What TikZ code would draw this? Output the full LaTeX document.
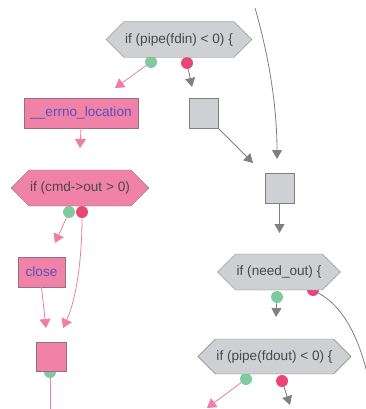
\documentclass[tikz,border=0pt]{standalone}
\usepackage{fontspec}
\setmainfont{Liberation Sans}
\usetikzlibrary{shapes.symbols, arrows.meta}
\definecolor{boxgrey}{RGB}{206,208,212}
\definecolor{edgegrey}{RGB}{128,128,128}
\definecolor{boxpink}{RGB}{240,130,168}
\definecolor{edgepink}{RGB}{150,110,125}
\definecolor{linkpink}{RGB}{240,125,165}
\definecolor{dotgreen}{RGB}{128,202,160}
\definecolor{dotred}{RGB}{232,70,118}
\definecolor{textgrey}{RGB}{72,72,72}
\definecolor{textblue}{RGB}{90,80,190}

\begin{document}
\begin{tikzpicture}[x=1pt, y=-1pt,
    font=\fontsize{13.6}{16}\selectfont,
    hexnode/.style={signal, signal to=west and east, signal pointer angle=90,
      draw=edgegrey, inner sep=1pt, minimum height=36pt, text=textgrey},
    greyhex/.style={hexnode, fill=boxgrey},
    pinkhex/.style={hexnode, fill=boxpink, draw=edgepink},
    greybox/.style={rectangle, draw=edgegrey, fill=boxgrey, inner sep=0pt},
    pinkbox/.style={rectangle, draw=edgepink, fill=boxpink, inner sep=0pt, text=textblue},
    truedot/.style={circle, fill=dotgreen, minimum size=12pt, inner sep=0pt},
    falsedot/.style={circle, fill=dotred, minimum size=12pt, inner sep=0pt},
    greyline/.style={draw=edgegrey, line width=0.8pt, -{Triangle[width=10pt,length=9pt]}},
    pinkline/.style={draw=linkpink, line width=0.8pt, -{Triangle[width=11pt,length=9pt]}}]
  \useasboundingbox (0,0) rectangle (366,409);

  % branch dots
  \node[truedot]  (fdin-t)  at (151,62) {};
  \node[falsedot] (fdin-f)  at (187,63) {};
  \node[truedot]  (cmd-t)   at (69,212) {};
  \node[falsedot] (cmd-f)   at (82,212) {};
  \node[truedot]  (need-t)  at (277,297) {};
  \node[falsedot] (need-f)  at (313,290) {};
  \node[truedot]  (fdout-t) at (246,379) {};
  \node[falsedot] (fdout-f) at (282,381) {};
  \node[truedot]  (join-t)  at (50,372) {};

  % blocks
  \node[greyhex, minimum width=143pt] (fdin) at (179,39.5) {if (pipe(fdin) < 0) \{};
  \node[pinkbox, minimum width=114pt, minimum height=30pt] (errno) at (81,113) {\_\_errno\_location};
  \node[greybox, minimum width=29pt, minimum height=30pt] (skip1) at (203.5,113) {};
  \node[pinkhex, minimum width=134pt] (cmd) at (80,188) {if (cmd->out > 0)};
  \node[greybox, minimum width=29pt, minimum height=30pt] (skip2) at (279.5,188) {};
  \node[pinkbox, minimum width=47pt, minimum height=30pt] (close) at (41.5,272) {close};
  \node[greyhex, minimum width=120pt] (need) at (279,272) {if (need\_out) \{};
  \node[pinkbox, minimum width=30pt, minimum height=29pt] (join) at (51,356.5) {};
  \node[greyhex, minimum width=151pt, minimum height=35pt] (fdout) at (274.5,356.5) {if (pipe(fdout) < 0) \{};

  % free ends
  \coordinate (fdin-t-end)  at (115,88);
  \coordinate (fdin-f-end)  at (192,87);
  \coordinate (errno-end)   at (80,148);
  \coordinate (from-top)    at (255,8);
  \coordinate (top-end)     at (277,159);
  \coordinate (skip1-end)   at (253,163);
  \coordinate (skip2-end)   at (279.5,233);
  \coordinate (cmd-t-end)   at (55,243);
  \coordinate (cmd-f-end)   at (63,328);
  \coordinate (close-end)   at (46,328);
  \coordinate (need-t-end)  at (276,317);
  \coordinate (need-f-end)  at (370,385);
  \coordinate (join-end)    at (50,412);
  \coordinate (fdout-t-end) at (207,408);
  \coordinate (fdout-f-end) at (290,405);

  % edges
  \draw[pinkline] (fdin-t) -- (fdin-t-end);
  \draw[greyline] (fdin-f) -- (fdin-f-end);
  \draw[pinkline] (errno.south) -- (errno-end);
  \draw[greyline] (from-top) .. controls (270,60) and (277,110) .. (top-end);
  \draw[greyline] (skip1.south east) -- (skip1-end);
  \draw[greyline] (skip2.south) -- (skip2-end);
  \draw[pinkline] (cmd-t) -- (cmd-t-end);
  \draw[pinkline] (cmd-f) .. controls (82,260) and (76,300) .. (cmd-f-end);
  \draw[pinkline] (close.south) -- (close-end);
  \draw[greyline] (need-t) -- (need-t-end);
  \draw[draw=edgegrey, line width=0.8pt] (need-f) .. controls (340,305) and (358,330) .. (need-f-end);
  \draw[draw=linkpink, line width=0.8pt] (join-t) -- (join-end);
  \draw[pinkline] (fdout-t) -- (fdout-t-end);
  \draw[greyline] (fdout-f) -- (fdout-f-end);
\end{tikzpicture}
\end{document}
